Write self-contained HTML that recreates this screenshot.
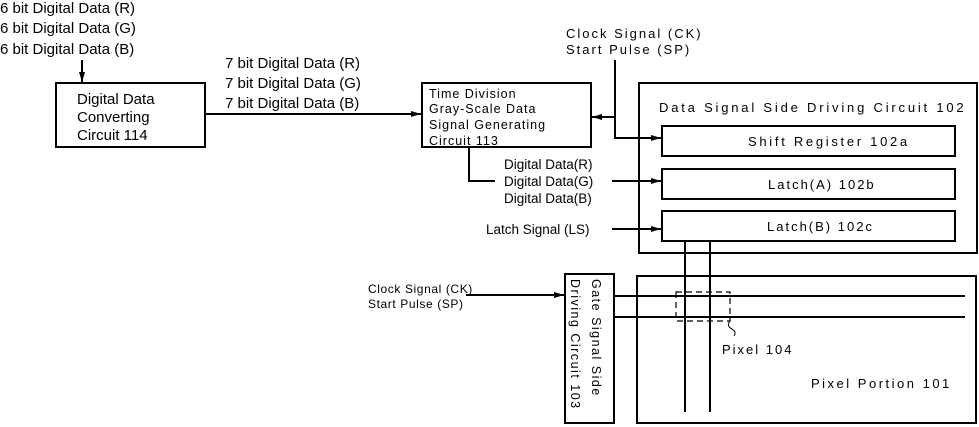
<!DOCTYPE html>
<html><head><meta charset="utf-8"><style>
html,body{margin:0;padding:0;background:#fff;}
svg{display:block;}
.p{font-family:"Liberation Sans",sans-serif;font-size:15px;fill:#000;}
.m{font-family:"Liberation Sans",sans-serif;font-size:13px;fill:#000;letter-spacing:2px;}
</style></head><body>
<svg width="979" height="427" viewBox="0 0 979 427" xmlns="http://www.w3.org/2000/svg">
<defs><marker id="a" markerWidth="10" markerHeight="8" refX="10" refY="4" orient="auto" markerUnits="userSpaceOnUse"><path d="M0,1 L10,4 L0,7 Z" fill="#000"/></marker></defs>
<g stroke="#000" stroke-width="2" fill="none">
<rect x="56" y="83" width="149" height="64"/>
<rect x="422" y="83" width="169" height="64"/>
<rect x="639" y="83" width="338" height="170"/>
<rect x="662" y="126" width="293" height="30"/>
<rect x="662" y="169" width="293" height="30"/>
<rect x="662" y="211" width="293" height="30"/>
<rect x="565" y="274" width="49" height="149"/>
<rect x="637" y="276" width="339" height="147"/>
<line x1="82" y1="60" x2="82" y2="82" marker-end="url(#a)"/>
<line x1="205" y1="114" x2="421" y2="114" marker-end="url(#a)"/>
<polyline points="615,60 615,138 661,138" marker-end="url(#a)"/>
<line x1="615" y1="117" x2="592" y2="117" marker-end="url(#a)"/>
<polyline points="469,147 469,181 495,181"/>
<line x1="612" y1="181" x2="661" y2="181" marker-end="url(#a)"/>
<line x1="612" y1="229" x2="661" y2="229" marker-end="url(#a)"/>
<line x1="685" y1="241" x2="685" y2="412"/>
<line x1="710" y1="241" x2="710" y2="412"/>
<line x1="614" y1="296" x2="965" y2="296"/>
<line x1="614" y1="317" x2="965" y2="317"/>
<line x1="466" y1="295" x2="564" y2="295" marker-end="url(#a)"/>
</g>
<rect x="676" y="292" width="54" height="29" fill="none" stroke="#000" stroke-width="1.2" stroke-dasharray="6,4"/>
<path d="M730,321 q-4,5 2,8 q5,3 2,7" fill="none" stroke="#000" stroke-width="1"/>
<text class="p" x="0" y="13">6 bit Digital Data (R)</text>
<text class="p" x="0" y="33">6 bit Digital Data (G)</text>
<text class="p" x="0" y="54">6 bit Digital Data (B)</text>
<text class="p" x="225" y="68">7 bit Digital Data (R)</text>
<text class="p" x="225" y="88">7 bit Digital Data (G)</text>
<text class="p" x="225" y="108">7 bit Digital Data (B)</text>
<text class="p" x="77" y="104">Digital Data</text>
<text class="p" x="77" y="122">Converting</text>
<text class="p" x="77" y="140">Circuit 114</text>
<g class="m" style="letter-spacing:1px;font-size:12.5px">
<text x="429" y="98">Time Division</text>
<text x="429" y="113">Gray-Scale Data</text>
<text x="429" y="129">Signal Generating</text>
<text x="429" y="145">Circuit 113</text>
</g>
<text class="m" x="566" y="38">Clock Signal (CK)</text>
<text class="m" x="566" y="54">Start Pulse (SP)</text>
<text class="m" x="659" y="112" style="letter-spacing:2.8px">Data Signal Side Driving Circuit 102</text>
<text class="m" x="748" y="146" style="letter-spacing:2.7px">Shift Register 102a</text>
<text class="m" x="768" y="189">Latch(A) 102b</text>
<text class="m" x="767" y="231">Latch(B) 102c</text>
<text class="p" x="504" y="169" style="font-size:13.5px">Digital Data(R)</text>
<text class="p" x="504" y="186" style="font-size:13.5px">Digital Data(G)</text>
<text class="p" x="504" y="203" style="font-size:13.5px">Digital Data(B)</text>
<text class="p" x="486" y="234" style="font-size:13.5px">Latch Signal (LS)</text>
<text class="m" x="368" y="293" style="font-size:12px;letter-spacing:0.6px">Clock Signal (CK)</text>
<text class="m" x="368" y="308" style="font-size:12px;letter-spacing:0.6px">Start Pulse (SP)</text>
<text class="m" x="722" y="354">Pixel 104</text>
<text class="m" x="811" y="388" style="letter-spacing:2.5px">Pixel Portion 101</text>
<text class="m" transform="translate(592,279) rotate(90)" style="font-size:12.5px;letter-spacing:1.5px">Gate Signal Side</text>
<text class="m" transform="translate(571,279) rotate(90)" style="font-size:12.5px;letter-spacing:1.5px">Driving Circuit 103</text>
</svg>
</body></html>
